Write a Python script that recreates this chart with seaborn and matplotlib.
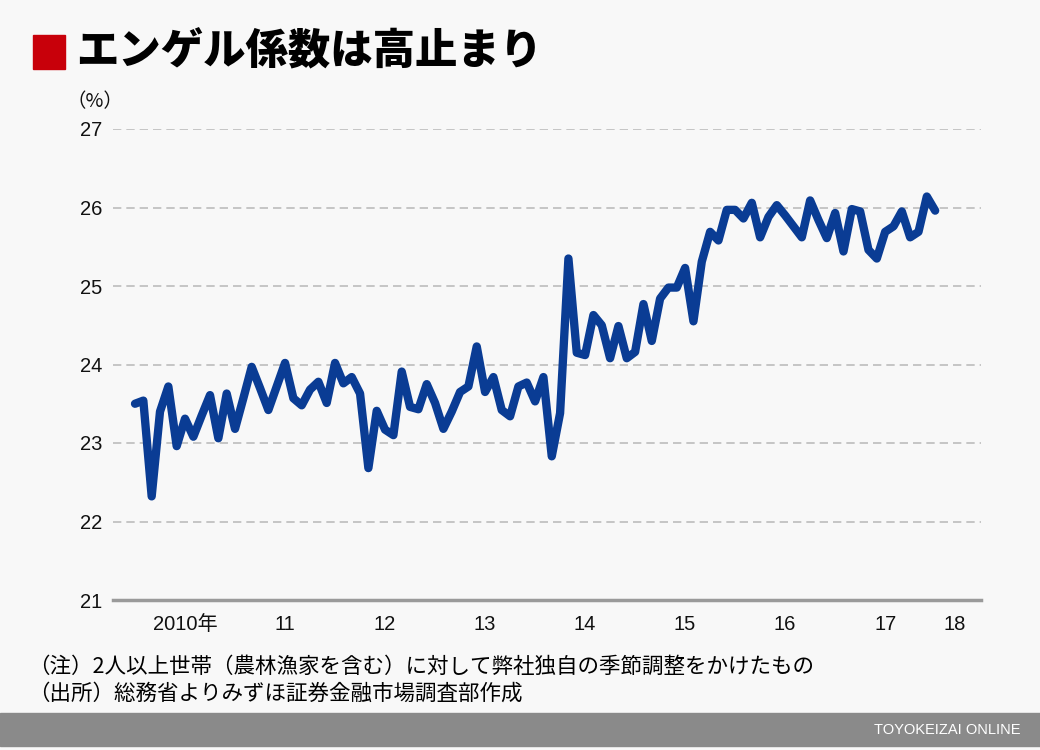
import numpy as np
import pandas as pd
import matplotlib.pyplot as plt
import matplotlib.patches as patches
import seaborn as sns

# Engel coefficient (%), monthly, Jan 2010 - Jan 2018
engel = [
    23.50, 23.54, 22.32, 23.40, 23.72, 22.96, 23.31, 23.08, 23.35, 23.61, 23.06, 23.63,  # 2010
    23.18, 23.57, 23.97, 23.70, 23.42, 23.72, 24.02, 23.57, 23.48, 23.68, 23.78, 23.51,  # 2011
    24.02, 23.76, 23.84, 23.63, 22.68, 23.41, 23.17, 23.10, 23.91, 23.46, 23.43, 23.75,  # 2012
    23.51, 23.18, 23.40, 23.65, 23.72, 24.23, 23.65, 23.84, 23.42, 23.34, 23.72, 23.77,  # 2013
    23.53, 23.84, 22.83, 23.38, 25.35, 24.15, 24.12, 24.63, 24.50, 24.08, 24.49, 24.08,  # 2014
    24.16, 24.77, 24.30, 24.84, 24.98, 24.98, 25.23, 24.55, 25.31, 25.69, 25.58, 25.97,  # 2015
    25.97, 25.86, 26.06, 25.62, 25.88, 26.03, 25.90, 25.76, 25.62, 26.09, 25.84, 25.61,  # 2016
    25.93, 25.44, 25.98, 25.95, 25.46, 25.35, 25.69, 25.76, 25.95, 25.62, 25.69, 26.14,  # 2017
    25.96,                                                                              # 2018
]
year_labels = ["2010年", "11", "12", "13", "14", "15", "16", "17", "18"]
y_ticks = [21, 22, 23, 24, 25, 26, 27]

title = "エンゲル係数は高止まり"
note1 = "（注）2人以上世帯（農林漁家を含む）に対して弊社独自の季節調整をかけたもの"
note2 = "（出所）総務省よりみずほ証券金融市場調査部作成"

df = pd.DataFrame({"month": np.arange(len(engel)), "engel": engel})

sns.set_style("white")
plt.rcParams['font.family'] = ['Liberation Sans', 'Noto Sans CJK JP', 'DejaVu Sans']

bg = '#f8f8f8'
W, H = 1040, 750
fig = plt.figure(figsize=(10.4, 7.5), dpi=100, facecolor=bg)
ax = fig.add_axes([113 / W, 150 / H, 868 / W, 471 / H], facecolor=bg)

sns.lineplot(data=df, x="month", y="engel", color="#0a3c94", linewidth=6,
             solid_joinstyle='round', solid_capstyle='round', ax=ax, zorder=3)

ax.set_xlim(-2.64, 101.5)
ax.set_ylim(21, 27)
ax.set_xlabel("")
ax.set_ylabel("")

# y axis
ax.set_yticks(y_ticks)
ax.set_yticklabels([str(v) for v in y_ticks])
ax.tick_params(axis='y', length=0, pad=8, labelsize=14.5, labelcolor='#111111')
for v in y_ticks[1:]:
    ax.axhline(v, color='#bdbdbd', lw=1.2, ls=(0, (5, 3)), zorder=1)

# x axis: tick marks at year starts, labels mid-year
ax.set_xticks(np.arange(0, len(engel), 12))
ax.set_xticklabels([])
ax.tick_params(axis='x', which='major', direction='out', length=9, width=1.5,
               color='#9a9a9a')
label_pos = [6 + 12 * k for k in range(8)] + [98.4]
ax.set_xticks(label_pos, minor=True)
ax.set_xticklabels(year_labels, minor=True)
ax.tick_params(axis='x', which='minor', length=0, pad=11, labelsize=14.5,
               labelcolor='#111111')

sns.despine(ax=ax, left=True, top=True, right=True)
ax.spines['bottom'].set_color('#9a9a9a')
ax.spines['bottom'].set_linewidth(2.5)

# title with red square
fig.patches.append(patches.Rectangle((33 / W, 1 - 69 / H), 32 / W, 34 / H,
                                     transform=fig.transFigure, color='#c8000a'))
fig.text(76 / W, 1 - 52 / H, title, fontsize=30.5, weight='heavy', va='center',
         family=['Noto Sans CJK JP'], color='#000000')

fig.text(66 / W, 1 - 102 / H, "（%）", fontsize=14, va='center',
         family=['Noto Sans CJK JP'], color='#111111')

# notes
fig.text(28 / W, 1 - 667 / H, note1, fontsize=15.5, va='center',
         family=['Noto Sans CJK JP'], color='#000000')
fig.text(28 / W, 1 - 694 / H, note2, fontsize=15.5, va='center',
         family=['Noto Sans CJK JP'], color='#000000')

# footer band
fig.patches.append(patches.Rectangle((0, 1 - 746 / H), 1, 33 / H,
                                     transform=fig.transFigure, color='#8a8a8a'))
fig.text(1020 / W, 1 - 730 / H, "TOYOKEIZAI ONLINE", fontsize=10.5, color='white',
         ha='right', va='center')

fig.savefig('out.png', dpi=100, facecolor=fig.get_facecolor())
